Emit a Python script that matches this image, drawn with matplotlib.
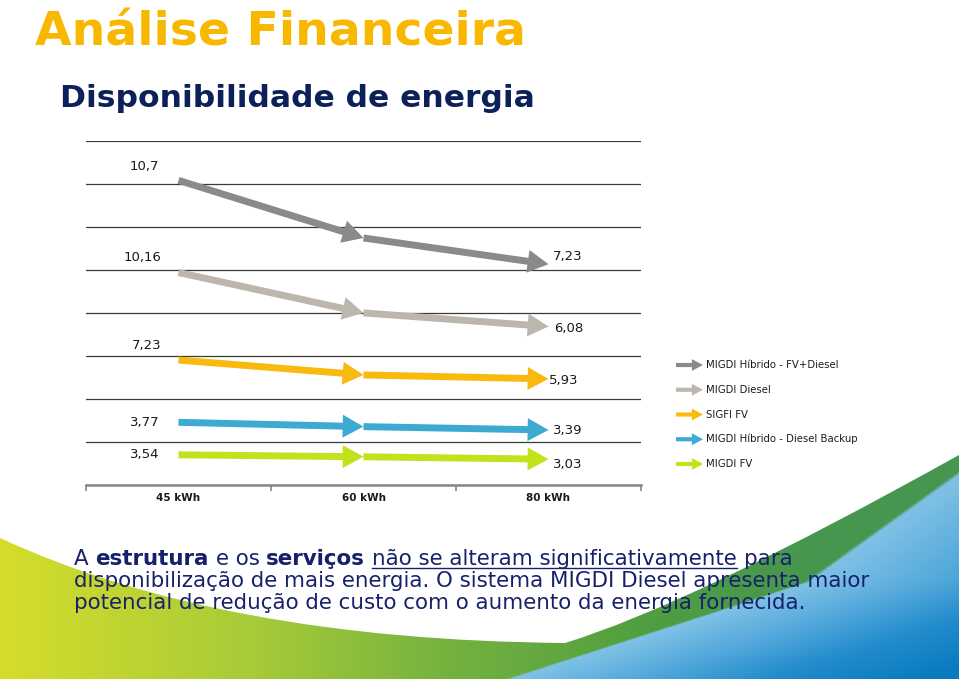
import numpy as np
import matplotlib
matplotlib.use("Agg")
import matplotlib.pyplot as plt
from matplotlib.path import Path
from matplotlib.patches import PathPatch

W, H = 959, 679

# chart data (stacked line chart, values per series)
categories = ["45 kWh", "60 kWh", "80 kWh"]
series_names = ["MIGDI Híbrido - FV+Diesel", "MIGDI Diesel", "SIGFI FV",
                "MIGDI Híbrido - Diesel Backup", "MIGDI FV"]
hibrido_fv_diesel = [10.7, 8.7, 7.23]
migdi_diesel = [10.16, 7.2, 6.08]
sigfi_fv = [7.23, 6.0, 5.93]
hibrido_backup = [3.77, 3.5, 3.39]
migdi_fv = [3.54, 3.31, 3.03]
colors = ["#8a8a8a", "#bdb6ad", "#fab90f", "#3ea9d1", "#c3e21c"]

values = np.array([hibrido_fv_diesel, migdi_diesel, sigfi_fv, hibrido_backup, migdi_fv])
stacked = np.cumsum(values[::-1], axis=0)[::-1]   # bottom series is last

# label offsets in pixels (dx, dy up)
left_off = [(-19, 14), (-17, 15), (-17, 15), (-19, 0), (-19, 0)]
right_off = [(4, 8), (6, -2), (0, -2), (4, -1), (4, -5)]
PT = 72 / 100.0

fig = plt.figure(figsize=(W / 100, H / 100), dpi=100)

# ---- slide background (pixel coords, y down) ----
bg = fig.add_axes([0, 0, 1, 1], zorder=0)
bg.set_xlim(0, W)
bg.set_ylim(H, 0)
bg.axis("off")

y0 = 430
yy, xx = np.mgrid[y0:H, 0:W] + 0.5
bound = np.interp(yy, [440, 473, 582, 610, 679], [1010, 959, 807, 722, 508])
u = xx - bound
gx = [0, 250, 450, 650, 820]
gcols = np.array([[214, 221, 43], [168, 203, 56], [116, 178, 63], [80, 158, 64], [70, 150, 80]]) / 255
bu = [0, 120, 260, 420]
bcols = np.array([[128, 194, 230], [86, 170, 220], [34, 140, 204], [8, 122, 192]]) / 255
green = np.stack([np.interp(xx, gx, gcols[:, k]) for k in range(3)], axis=-1)
blue = np.stack([np.interp(u, bu, bcols[:, k]) for k in range(3)], axis=-1)
mix = np.clip((u + 3) / 6, 0, 1)[..., None]
img = green * (1 - mix) + blue * mix
bg.imshow(img, extent=(0, W, H, y0), origin="upper", aspect="auto", zorder=0)

verts = [(0, y0 - 5), (0, 538), (220, 640), (565, 643), (690, 605), (W, 455), (W, y0 - 5), (0, y0 - 5)]
codes = [Path.MOVETO, Path.LINETO, Path.CURVE3, Path.CURVE3, Path.CURVE3, Path.CURVE3,
         Path.LINETO, Path.CLOSEPOLY]
bg.add_patch(PathPatch(Path(verts, codes), facecolor="white", edgecolor="none", zorder=1))

bg.text(35, 46, "Análise Financeira", fontsize=34, fontweight="bold", color="#f9b800",
        ha="left", va="baseline", zorder=3)
bg.text(60, 107, "Disponibilidade de energia", fontsize=22.6, fontweight="bold", color="#0c215a",
        ha="left", va="baseline", zorder=3)

# legend (drawn by hand, arrows like the series)
for i, (name, c) in enumerate(zip(series_names, colors)):
    ly = 365 + i * 24.75
    bg.annotate("", xy=(703, ly), xytext=(676, ly),
                arrowprops=dict(arrowstyle="simple,head_length=0.8,head_width=0.85,tail_width=0.3",
                                mutation_scale=10, lw=0, color=c, shrinkA=0, shrinkB=0), zorder=3)
    bg.text(706, ly, name, fontsize=7.3, color="#1a1a1a", ha="left", va="center", zorder=3)

# bottom paragraph
navy = "#17216b"
fs = 15.4
renderer = fig.canvas.get_renderer()
space = 0.318 * fs / PT
runs = [("A", False, False), ("estrutura", True, False), ("e os", False, False),
        ("serviços", True, False), ("não se alteram significativamente", False, True),
        ("para", False, False)]
x = 74
for txt, bold, under in runs:
    t = bg.text(x, 565, txt, fontsize=fs, color=navy, fontweight="bold" if bold else "normal",
                ha="left", va="baseline", zorder=3)
    bb = t.get_window_extent(renderer)
    if under:
        bg.plot([bb.x0, bb.x1], [568, 568], color=navy, lw=1.0, zorder=3)
    x = bb.x1 + space
bg.text(74, 587, "disponibilização de mais energia. O sistema MIGDI Diesel apresenta maior",
        fontsize=fs, color=navy, ha="left", va="baseline", zorder=3)
bg.text(74, 609, "potencial de redução de custo com o aumento da energia fornecida.",
        fontsize=fs, color=navy, ha="left", va="baseline", zorder=3)

# ---- chart ----
ax = fig.add_axes([86 / W, (H - 485.3) / H, 555 / W, 344.6 / H], zorder=2)
ax.patch.set_visible(False)
ax.set_xlim(-0.5, 2.5)
ax.set_ylim(0, 40)
ax.set_yticks(np.arange(0, 41, 5))
ax.yaxis.grid(True, color="#3a3a3a", lw=0.9)
ax.set_axisbelow(True)
ax.tick_params(axis="y", length=0, labelleft=False)
for s in ["left", "right", "top"]:
    ax.spines[s].set_visible(False)
ax.spines["bottom"].set_color("#858585")
ax.spines["bottom"].set_linewidth(1.8)
ax.set_xticks(range(len(categories)))
ax.set_xticklabels(categories, fontsize=7.5, fontweight="bold", color="#1a1a1a")
ax.set_xticks(np.arange(-0.5, len(categories), 1.0), minor=True)
ax.tick_params(axis="x", which="major", length=0, pad=5.5)
ax.tick_params(axis="x", which="minor", length=4, width=1.2, color="#858585", direction="out")

xs = np.arange(len(categories))
for k, c in enumerate(colors):
    ys = stacked[k]
    for i in range(len(xs) - 1):
        ax.annotate("", xy=(xs[i + 1], ys[i + 1]), xytext=(xs[i], ys[i]),
                    arrowprops=dict(arrowstyle="simple,head_length=1.5,head_width=1.65,tail_width=0.5",
                                    mutation_scale=10, lw=0, color=c, shrinkA=0, shrinkB=0),
                    annotation_clip=False, zorder=3)
    v0, v1 = values[k][0], values[k][-1]
    dx, dy = left_off[k]
    ax.annotate(f"{v0:g}".replace(".", ","), (xs[0], ys[0]), xytext=(dx * PT, dy * PT),
                textcoords="offset points", ha="right", va="center", fontsize=9.5, color="#1a1a1a")
    dx, dy = right_off[k]
    ax.annotate(f"{v1:g}".replace(".", ","), (xs[-1], ys[-1]), xytext=(dx * PT, dy * PT),
                textcoords="offset points", ha="left", va="center", fontsize=9.5, color="#1a1a1a")

fig.savefig("out.png", dpi=100)
